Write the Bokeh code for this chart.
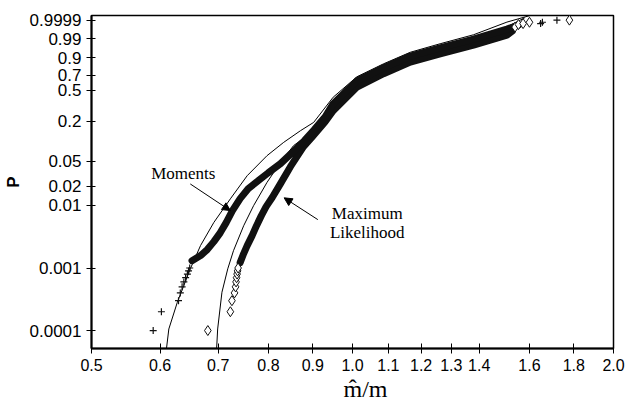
import numpy as np
from bokeh.plotting import figure
from bokeh.models import FixedTicker, Label, Arrow, NormalHead, Range1d, CustomJSTickFormatter, Title
from bokeh.embed import file_html
from bokeh.resources import INLINE

# Probability-axis ticks (Weibull probability paper) and ratio-axis ticks
p_ticks = [0.0001, 0.001, 0.01, 0.02, 0.05, 0.2, 0.5, 0.7, 0.9, 0.99, 0.9999]
p_tick_labels = ["0.0001", "0.001", "0.01", "0.02", "0.05", "0.2", "0.5", "0.7", "0.9", "0.99", "0.9999"]
x_ticks = [0.5, 0.6, 0.7, 0.8, 0.9, 1.0, 1.1, 1.2, 1.3, 1.4, 1.6, 1.8, 2.0]

# Method-of-moments estimates: sorted ratios with their plotting positions
mom_lo_p = [0.0001, 0.0002, 0.0003, 0.0004, 0.0005, 0.0006, 0.0007, 0.0008, 0.0009, 0.0010]
mom_lo_x = [0.589, 0.602, 0.630, 0.633, 0.636, 0.639, 0.642, 0.645, 0.647, 0.649]
mom_body_p = [0.00131, 0.00158, 0.00197, 0.00264, 0.00368, 0.00531, 0.00824, 0.0128, 0.0184,
              0.0247, 0.0330, 0.0456, 0.0676, 0.103, 0.150, 0.2312, 0.346, 0.628, 0.797,
              0.914, 0.9642, 0.9898, 0.99868, 0.99951]
mom_body_x = [0.653, 0.668, 0.680, 0.692, 0.704, 0.715, 0.727, 0.742, 0.758,
              0.779, 0.800, 0.826, 0.852, 0.880, 0.903, 0.930, 0.950, 1.012, 1.086,
              1.166, 1.262, 1.379, 1.507, 1.553]
mom_hi_p = [0.9997, 0.9998, 0.9999]
mom_hi_x = [1.648, 1.656, 1.721]

# Maximum-likelihood estimates
ml_lo_p = [0.0001, 0.0002, 0.0003, 0.0004, 0.0005, 0.0006, 0.0007, 0.0008, 0.0009, 0.0010]
ml_lo_x = [0.681, 0.723, 0.726, 0.731, 0.733, 0.734, 0.735, 0.736, 0.737, 0.738]
ml_body_p = [0.00122, 0.00170, 0.00228, 0.00329, 0.00475, 0.00686, 0.00955, 0.0133, 0.0221,
             0.0409, 0.0835, 0.1185, 0.1965, 0.2797, 0.543, 0.722, 0.860, 0.9308, 0.9747,
             0.99507, 0.99778]
ml_body_x = [0.742, 0.749, 0.756, 0.766, 0.775, 0.785, 0.795, 0.808, 0.826,
             0.848, 0.878, 0.899, 0.930, 0.950, 1.012, 1.086, 1.166, 1.262, 1.379,
             1.507, 1.528]
ml_hi_p = [0.9992, 0.9996, 0.9997, 0.9998, 0.9999]
ml_hi_x = [1.540, 1.554, 1.573, 1.600, 1.779]

# Asymptotic distributions of the two estimators
mom_fit_p = [0.00005, 0.000106, 0.000283, 0.00097, 0.00229, 0.00535, 0.0127, 0.0295, 0.0608,
             0.0972, 0.1455, 0.192, 0.417, 0.682, 0.842, 0.9405, 0.9789, 0.99536, 0.99981, 0.999982]
mom_fit_x = [0.610, 0.614, 0.628, 0.650, 0.668, 0.692, 0.723, 0.756, 0.797,
             0.833, 0.871, 0.902, 0.950, 1.012, 1.086, 1.166, 1.262, 1.379, 1.507, 1.603]
ml_fit_p = [0.00005, 0.000106, 0.00041, 0.00097, 0.00189, 0.00474, 0.0099, 0.0232, 0.0477,
            0.0865, 0.1225, 0.346, 0.588, 0.773, 0.900, 0.9596, 0.99031, 0.99926, 0.999956]
ml_fit_x = [0.697, 0.699, 0.707, 0.718, 0.729, 0.749, 0.769, 0.797, 0.826,
            0.855, 0.886, 0.950, 1.012, 1.086, 1.166, 1.262, 1.379, 1.507, 1.580]


def wb(p):
    """Weibull probability-paper ordinate: ln(-ln(1-P))."""
    p = np.asarray(p, dtype=float)
    return np.log(-np.log(1.0 - p))


INK = "#111111"

p = figure(width=628, height=409, x_axis_type="log",
           x_range=Range1d(0.5, 2.0), y_range=Range1d(-9.871, 2.391),
           output_backend="svg", toolbar_location=None,
           min_border_left=91, min_border_right=15, min_border_top=15, min_border_bottom=61)
p.background_fill_color = "white"
p.border_fill_color = "white"
p.outline_line_color = "black"
p.outline_line_width = 1.5
p.grid.visible = False

# fitted curves
p.line(mom_fit_x, wb(mom_fit_p), line_color="black", line_width=1)
p.line(ml_fit_x, wb(ml_fit_p), line_color="black", line_width=1)

# dense bodies of the samples
p.line(ml_body_x, wb(ml_body_p), line_color=INK, line_width=7, line_join="round", line_cap="round")
p.line(mom_body_x, wb(mom_body_p), line_color=INK, line_width=7, line_join="round", line_cap="round")

# individual tail points
p.scatter(mom_lo_x + mom_hi_x, wb(mom_lo_p + mom_hi_p), marker="cross", size=7,
          line_color=INK, line_width=1.2)
p.scatter(ml_lo_x + ml_hi_x, wb(ml_lo_p + ml_hi_p), marker="diamond", size=10,
          line_color=INK, fill_color="white", line_width=1)

# axes
y_tick_pos = [round(float(v), 6) for v in wb(p_ticks)]
p.yaxis.ticker = FixedTicker(ticks=y_tick_pos)
p.yaxis.major_label_overrides = {v: lab for v, lab in zip(y_tick_pos, p_tick_labels)}
p.yaxis.axis_label = "P"
p.yaxis.axis_label_text_font = "Liberation Sans"
p.yaxis.axis_label_text_font_style = "bold"
p.yaxis.axis_label_text_font_size = "17px"
p.yaxis.axis_label_standoff = 4
p.yaxis.major_label_text_font_size = "17px"
p.yaxis.major_tick_in = 4
p.yaxis.major_tick_out = 5

p.xaxis.ticker = FixedTicker(ticks=x_ticks)
p.xaxis.formatter = CustomJSTickFormatter(code="return tick.toFixed(1);")
p.xaxis.major_label_text_font_size = "16px"
p.xaxis.major_tick_in = 5
p.xaxis.major_tick_out = 5

for ax in (p.xaxis, p.yaxis):
    ax.axis_line_width = 2
    ax.axis_line_color = "black"
    ax.axis_label_text_color = "black"
    ax.major_tick_line_color = "black"
    ax.major_tick_line_width = 1
    ax.minor_tick_line_color = None
    ax.major_label_text_font = "Liberation Sans"
    ax.major_label_text_color = "black"

# x-axis title, set slightly right of the frame centre
p.add_layout(Title(text="m\u0302/m", align="left", offset=252, standoff=0,
                   text_font="Liberation Serif", text_font_style="normal",
                   text_font_size="24px", text_color="black"), "below")

# annotations
serif = dict(text_font="Liberation Serif", text_font_size="17px", text_color="black",
             text_align="center", text_baseline="middle")
p.add_layout(Label(x=0.638, y=-3.433, text="Moments", **serif))
p.add_layout(Label(x=1.040, y=-4.915, text="Maximum", **serif))
p.add_layout(Label(x=1.040, y=-5.592, text="Likelihood", **serif))

p.add_layout(Arrow(end=NormalHead(size=8, fill_color="black", line_color="black"),
                   x_start=0.650, y_start=-3.812, x_end=0.723, y_end=-4.794,
                   line_color="black", line_width=1))
p.add_layout(Arrow(end=NormalHead(size=8, fill_color="black", line_color="black"),
                   x_start=0.912, y_start=-5.125, x_end=0.834, y_end=-4.323,
                   line_color="black", line_width=1))

open("out.html", "w").write(file_html(p, INLINE))
